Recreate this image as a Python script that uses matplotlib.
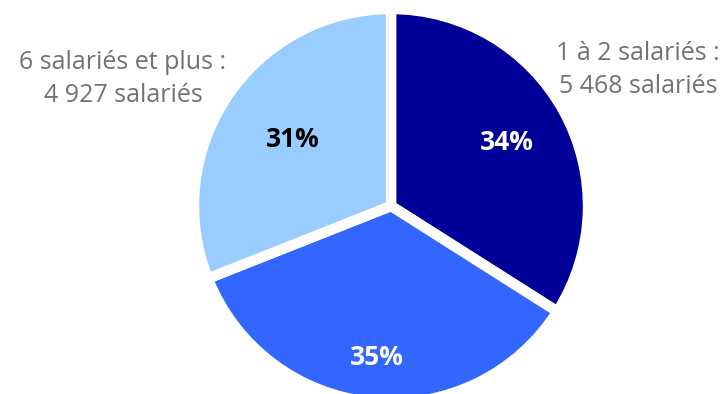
import matplotlib
matplotlib.use("Agg")
import matplotlib.pyplot as plt
import numpy as np

categories = ["1 à 2 salariés", "3 à 5 salariés", "6 salariés et plus"]
shares = [34, 35, 31]
pct_labels = ["34%", "35%", "31%"]
colors = ["#000099", "#3366FF", "#99CCFF"]
pct_colors = ["white", "white", "black"]
outer_texts = ["1 à 2 salariés :\n5 468 salariés", None, "6 salariés et plus :\n4 927 salariés"]

W, H = 725, 394
fig = plt.figure(figsize=(W / 100, H / 100), dpi=100)
ax = fig.add_axes([0, 0, 1, 1])

cx, cy, r = 391, 188, 197
wedges, _ = ax.pie(shares, colors=colors, startangle=90, counterclock=False,
                   center=(cx, cy), radius=r, frame=True,
                   wedgeprops=dict(edgecolor="white", linewidth=7.5))
ax.set_xlim(0, W)
ax.set_ylim(0, H)
ax.set_aspect("equal")
ax.axis("off")

fam = ["Open Sans", "DejaVu Sans"]
dists = [0.67, 0.77, 0.6]
for w, lab, c, d in zip(wedges, pct_labels, pct_colors, dists):
    ang = np.deg2rad((w.theta1 + w.theta2) / 2)
    ax.text(cx + d * r * np.cos(ang), cy + d * r * np.sin(ang), lab,
            ha="center", va="center", color=c, fontsize=19, fontweight="bold", family=fam)

ax.text(638, H - 70, outer_texts[0], ha="center", va="center", color="#767171",
        fontsize=18, family=fam, linespacing=1.45)
ax.text(123, H - 79, outer_texts[2], ha="center", va="center", color="#767171",
        fontsize=18, family=fam, linespacing=1.45)

fig.savefig("out.png", dpi=100)
